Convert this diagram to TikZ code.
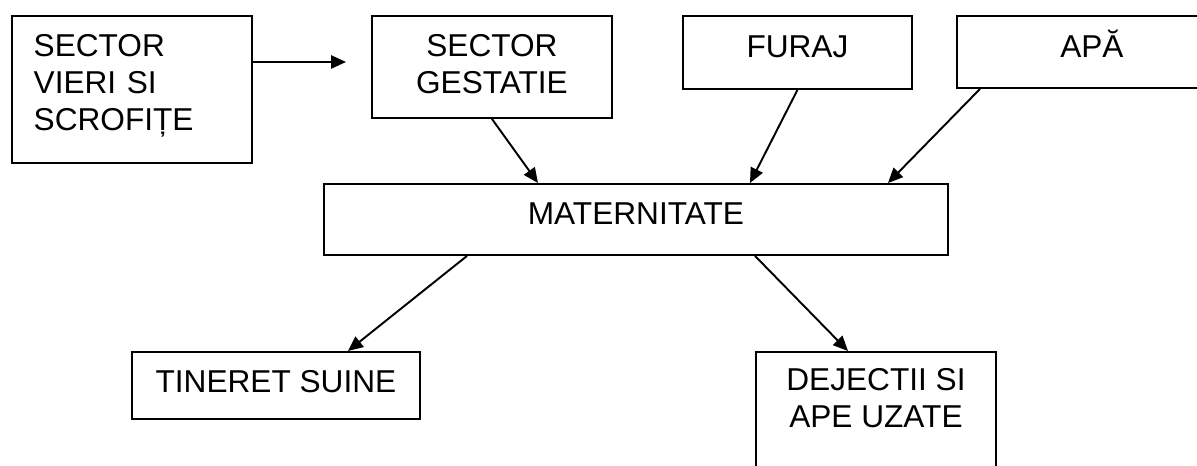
\documentclass[tikz,border=0pt]{standalone}
\usepackage{fontspec}
\setmainfont{Liberation Sans}
\usetikzlibrary{arrows.meta, calc}

\begin{document}
\begin{tikzpicture}[x=0.02cm, y=-0.02cm,
        box/.style={draw, line width=1.1pt, inner sep=0pt, anchor=north west, align=center,
            font=\fontsize{18}{21}\selectfont},
        oneline/.style={text height=13pt, text depth=7pt},
        arr/.style={line width=1.1pt, -{Triangle[length=8.5pt, width=7.5pt]}}]
        \useasboundingbox (0,0) rectangle (1197,466);
        \node[box, minimum width=4.8cm, minimum height=2.94cm, text width=3.92cm, align=left] (vieri) at (10.7,15) {SECTOR\\VIERI SI\\SCROFIȚE\rule[-8pt]{0pt}{0pt}};
        \node[box, minimum width=4.8cm, minimum height=2.04cm] (gest) at (371,15) {SECTOR\\GESTATIE\rule[-3.4pt]{0pt}{0pt}};
        \node[box, oneline, minimum width=4.58cm, minimum height=1.46cm] (furaj) at (682,15) {FURAJ};
        \node[box, oneline, minimum width=5.4cm, minimum height=1.44cm] (apa) at (956,15) {APĂ};
        \node[box, oneline, minimum width=12.48cm, minimum height=1.42cm] (mat) at (323,183) {MATERNITATE};
        \node[box, oneline, text depth=4.6pt, minimum width=5.76cm, minimum height=1.34cm] (tin) at (131,351) {TINERET SUINE};
        \node[box, minimum width=4.8cm, inner ysep=0.33cm, text depth=3cm] (dej) at (755,351) {DEJECTII SI\\APE UZATE};
        \coordinate (gin) at (346,62);
        \draw[arr] (vieri.east |- gin) -- (gin);
        \draw[arr] (gest.south) -- ($(mat.north west)+(215,0)$);
        \draw[arr] (furaj.south) -- ($(mat.north west)+(427,0)$);
        \draw[arr] ($(apa.south west)+(24,0)$) -- ($(mat.north west)+(565,0)$);
        \draw[arr] ($(mat.south west)+(144,0)$) -- ($(tin.north west)+(217,0)$);
        \draw[arr] ($(mat.south west)+(432,0)$) -- ($(dej.north west)+(93,0)$);
    \end{tikzpicture}
\end{document}
